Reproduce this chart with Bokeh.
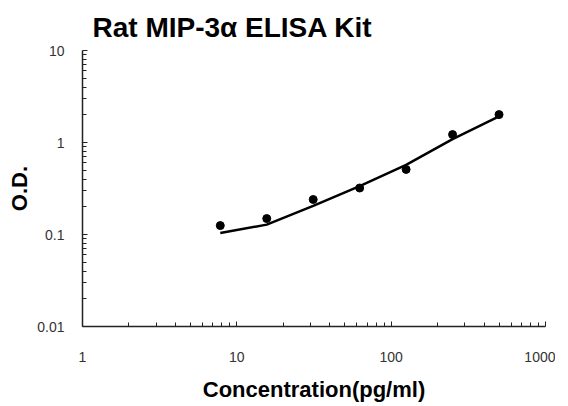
from bokeh.plotting import figure
from bokeh.models import FixedTicker
from bokeh.embed import file_html
from bokeh.resources import INLINE

# Standard concentrations (pg/ml) and measured O.D.
conc = [7.8125, 15.625, 31.25, 62.5, 125, 250, 500]
od = [0.125, 0.149, 0.24, 0.32, 0.51, 1.22, 2.01]

# Fitted curve
curve_conc = [7.8125, 15.625, 31.25, 62.5, 125, 250, 500]
curve_od = [0.104, 0.128, 0.205, 0.335, 0.57, 1.09, 1.92]

x_ticks = [1, 10, 100, 1000]
y_ticks = [0.01, 0.1, 1, 10]
x_labels = {1: "1", 10: "10", 100: "100", 1000: "1000"}
y_labels = {0.01: "0.01", 0.1: "0.1", 1: "1", 10: "10"}

FONT = "Liberation Sans"

p = figure(
    x_axis_type="log", y_axis_type="log",
    x_range=(1, 1000), y_range=(0.01, 10),
    frame_width=463, frame_height=276,
    min_border_left=82, min_border_right=10,
    min_border_top=50, min_border_bottom=78,
    output_backend="svg", toolbar_location=None,
    title="Rat MIP-3α ELISA Kit",
)
p.title.text_font = FONT
p.title.text_font_style = "bold"
p.title.text_font_size = "28px"
p.title.align = "left"
p.title.offset = 10
p.title.standoff = 16
p.title.text_color = "black"

p.grid.visible = False
p.outline_line_color = None

def minors(ticks):
    out = []
    for t in ticks[:-1]:
        out += [t * k for k in range(2, 10)]
    return out

p.xaxis.ticker = FixedTicker(ticks=x_ticks, minor_ticks=minors(x_ticks))
p.yaxis.ticker = FixedTicker(ticks=y_ticks, minor_ticks=minors(y_ticks))
p.xaxis.major_label_overrides = x_labels
p.yaxis.major_label_overrides = y_labels

for ax in (p.xaxis, p.yaxis):
    ax.axis_line_color = "#222222"
    ax.axis_line_width = 1.5
    ax.major_tick_line_color = "#222222"
    ax.minor_tick_line_color = "#222222"
    ax.major_tick_in = 5
    ax.major_tick_out = 0
    ax.minor_tick_in = 4
    ax.minor_tick_out = 0
    ax.major_label_text_font = FONT
    ax.major_label_text_font_size = "14px"
    ax.major_label_text_color = "#333333"
    ax.axis_label_text_font = FONT
    ax.axis_label_text_font_style = "bold"
    ax.axis_label_text_font_size = "22px"
    ax.axis_label_text_color = "black"

p.xaxis.axis_label = "Concentration(pg/ml)"
p.yaxis.axis_label = "O.D."
p.xaxis.major_label_standoff = 25
p.yaxis.major_label_standoff = 18
p.xaxis.axis_label_standoff = 12
p.yaxis.axis_label_standoff = 2

p.line(curve_conc, curve_od, line_color="black", line_width=2.5)
p.scatter(conc, od, size=8, fill_color="black", line_color="black")

open("out.html", "w").write(file_html(p, INLINE))
